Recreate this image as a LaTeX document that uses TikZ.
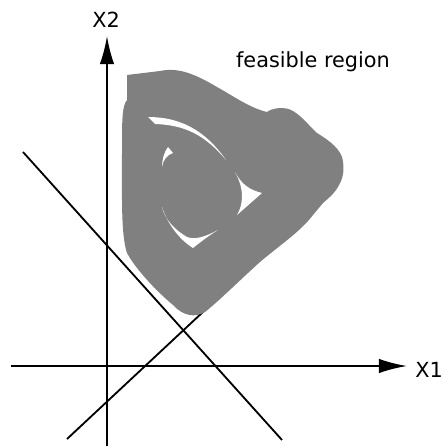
\documentclass[tikz,border=0pt]{standalone}
\usepackage{fontspec}
\setmainfont{DejaVu Sans}
\usetikzlibrary{arrows.meta}
\tikzset{
    axisline/.style={line width=1.4pt, -{Latex[length=0.7cm,width=0.36cm]}},
    constraint/.style={line width=1.3pt},
    axislabel/.style={font=\fontsize{14.8}{17}\selectfont, inner sep=0pt},
}
\begin{document}
\begin{tikzpicture}[x=0.025cm, y=-0.025cm]
    \useasboundingbox (0,0) rectangle (442,446);
    % axes
    \coordinate (xstart) at (11,366);
    \coordinate (xend) at (407,366);
    \coordinate (ystart) at (107,446);
    \coordinate (yend) at (107,36);
    \draw[axisline] (xstart) -- (xend);
    \draw[axisline] (ystart) -- (yend);
    \node[axislabel] (xname) at (429,370) {X1};
    \node[axislabel] (yname) at (106,20) {X2};
    % constraint lines
    \coordinate (ca) at (23,152);
    \coordinate (cb) at (282,440);
    \coordinate (cc) at (67,439);
    \coordinate (cd) at (204,311);
    \draw[constraint] (ca) -- (cb);
    \draw[constraint] (cc) -- (cd);
    % feasible region
    \fill[gray] (127,75) -- (160,71) .. controls (178,67) and (195,74) .. (217,87)
        .. controls (235,97) and (250,108) .. (267,112)
        .. controls (272,108) and (285,106) .. (293,111)
        .. controls (303,117) and (310,127) .. (317,133)
        .. controls (325,138) and (338,146) .. (342,157)
        .. controls (345,168) and (343,178) .. (340,183)
        .. controls (336,192) and (330,197) .. (323,203)
        -- (313,215) .. controls (300,232) and (280,245) .. (260,262)
        .. controls (240,280) and (220,300) .. (205,312)
        .. controls (195,318) and (183,316) .. (173,305)
        .. controls (155,290) and (135,268) .. (127,253)
        .. controls (121,235) and (122,200) .. (122,150)
        .. controls (122,120) and (122,106) .. (127,100) -- cycle;
    \begin{scope}[white]
        \fill (148,117) .. controls (180,117) and (205,130) .. (226,160)
            .. controls (205,135) and (185,125) .. (155,124) -- cycle;
        \fill (168,147) -- (173,153) .. controls (167,155) and (163,160) .. (162,167)
            .. controls (162,160) and (164,152) .. (168,147) -- cycle;
        \fill (235,172) .. controls (242,185) and (250,190) .. (262,193)
            -- (237,215) .. controls (243,205) and (245,190) .. (235,172) -- cycle;
        \fill (162,207) .. controls (168,225) and (180,240) .. (193,248)
            .. controls (203,240) and (210,235) .. (218,230)
            .. controls (205,237) and (195,240) .. (187,237)
            .. controls (175,230) and (165,220) .. (162,207) -- cycle;
    \end{scope}
    \node[axislabel] (regionname) at (313,62) {feasible region};
\end{tikzpicture}
\end{document}
